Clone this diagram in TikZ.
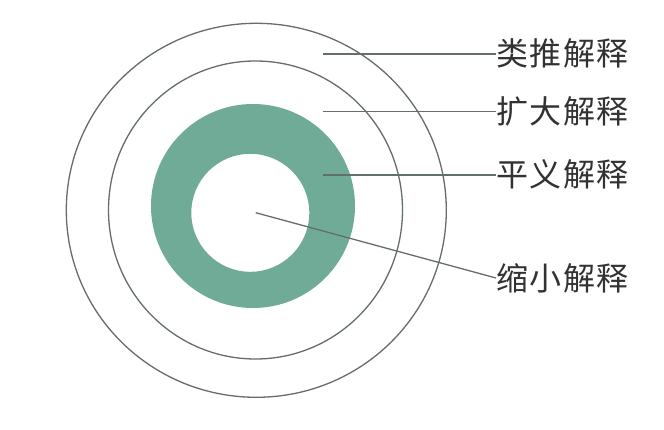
\documentclass[tikz,border=0pt]{standalone}
\usepackage{fontspec}
\newfontfamily\cjk[LetterSpace=5]{Noto Sans CJK SC}
\definecolor{ringline}{RGB}{100,110,106}
\definecolor{ringfill}{RGB}{112,171,152}
\definecolor{labeltext}{RGB}{50,50,50}
\tikzset{
  ring/.style={draw=ringline, line width=1.3pt},
  leader/.style={draw=ringline, line width=1.3pt},
  lbl/.style={anchor=west, inner sep=0pt, text=labeltext, font=\cjk\fontsize{32}{38}\selectfont}
}
\begin{document}
\begin{tikzpicture}[x=1pt,y=-1pt]
\useasboundingbox[fill=white] (0,0) rectangle (664,430);
% rings
\draw[ring] (256.3,210.3) ellipse [x radius=190, y radius=187];
\draw[ring] (255.5,210) ellipse [x radius=147, y radius=149];
\fill[ringfill, even odd rule] (253,206) circle [radius=102] (250.3,212.8) circle [radius=59];
% labels
\node[lbl] (l1) at (496,53) {类推解释};
\node[lbl] (l2) at (496,111) {扩大解释};
\node[lbl] (l3) at (496,174) {平义解释};
\node[lbl] (l4) at (496,278) {缩小解释};
% free ends of leaders
\coordinate (p1) at (323,54);
\coordinate (p2) at (323,111.5);
\coordinate (p3) at (323,175);
\coordinate (p4) at (255.7,212.7);
\draw[leader] (p1) -- (p1 -| l1.west);
\draw[leader] (p2) -- (p2 -| l2.west);
\draw[leader] (p3) -- (p3 -| l3.west);
\draw[leader] (p4) -- (l4.west);
\end{tikzpicture}
\end{document}
